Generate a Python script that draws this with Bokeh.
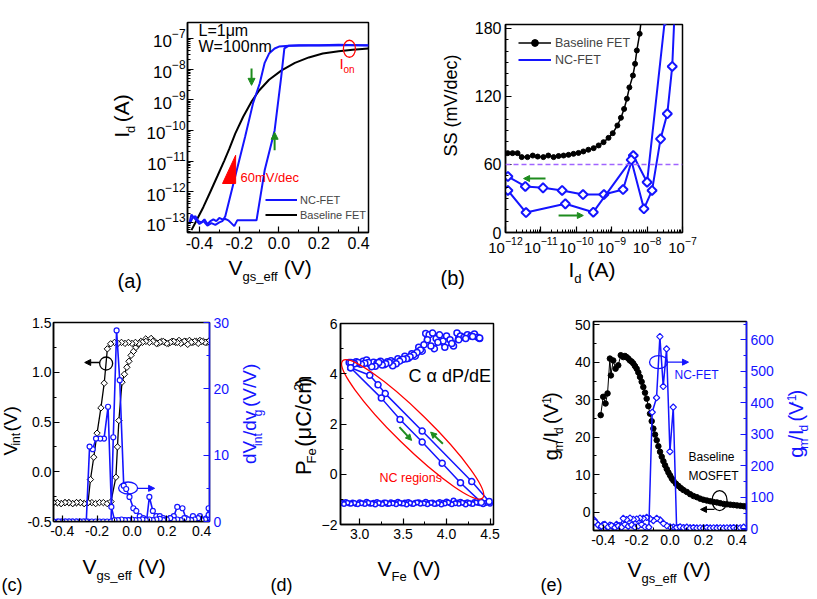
import math
from bokeh.plotting import figure
from bokeh.layouts import row, column
from bokeh.models import (Range1d, LinearAxis, FixedTicker, LogTickFormatter, PrintfTickFormatter,
                          Label, Arrow, NormalHead, Legend, LegendItem, Span)
from bokeh.embed import file_html
from bokeh.resources import INLINE

FONT = "Liberation Sans"
BLUE = "#1414ff"
GREEN = "#1e8c1e"
RED = "#ff0000"
PURPLE = "#a064ff"
K = 0.45  # measured shift of label glyphs below the requested baseline, in font sizes

# ---------------- data: panel (a) Id-Vgs ----------------
a_base_v = [-0.44, -0.42, -0.38, -0.345, -0.31, -0.276, -0.25, -0.22, -0.18, -0.137, -0.10, -0.05,
            0.013, 0.08, 0.15, 0.22, 0.30, 0.37, 0.45]
a_base_i = [5.6e-14, 1.0e-13, 3.2e-13, 1.0e-12, 3.2e-12, 1.0e-11, 2.5e-11, 7.9e-11, 2.8e-10, 8.9e-10,
            2.0e-9, 4.5e-9, 9.1e-9, 1.6e-8, 2.4e-8, 3.2e-8, 3.8e-8, 4.3e-8, 4.7e-8]
a_ncf_v = [-0.45, -0.435, -0.42, -0.405, -0.39, -0.375, -0.36, -0.345, -0.33, -0.315, -0.30, -0.285,
           -0.27, -0.255, -0.24, -0.225, -0.21, -0.19, -0.15, -0.113, -0.072, -0.022, 0.011, 0.027,
           0.05, 0.1, 0.2, 0.3, 0.4, 0.45]
a_ncf_i = [8.9e-14, 1.4e-13, 1.6e-13, 1.1e-13, 1.0e-13, 1.26e-13, 8.9e-14, 1.1e-13, 1.26e-13, 1.1e-13,
           1.4e-13, 1.26e-13, 1.3e-13, 1.17e-13, 9.5e-14, 7.6e-14, 1.17e-13, 1.17e-13, 1.17e-13,
           1.17e-13, 5.0e-12, 1.0e-10, 5.5e-9, 4.7e-8, 5.8e-8, 6.0e-8, 6.0e-8, 6.2e-8, 6.0e-8, 5.9e-8]
a_ncr_v = [0.45, 0.35, 0.25, 0.15, 0.05, 0.0, -0.022, -0.05, -0.072, -0.097, -0.13, -0.17, -0.22,
           -0.27, -0.285, -0.30, -0.32, -0.34, -0.36, -0.38, -0.40, -0.42, -0.44, -0.45]
a_ncr_i = [6.0e-8, 6.0e-8, 5.9e-8, 5.9e-8, 5.75e-8, 5.4e-8, 4.7e-8, 3.2e-8, 1.6e-8, 3.4e-9, 7.9e-10,
           6.3e-11, 3.2e-12, 1.6e-13, 1.1e-13, 1.0e-13, 8.3e-14, 9.5e-14, 7.9e-14, 1.1e-13, 8.9e-14,
           1.26e-13, 1.8e-13, 1.0e-13]
a_x_ticks = [-0.4, -0.2, 0.0, 0.2, 0.4]
a_y_ticks = [1e-13, 1e-12, 1e-11, 1e-10, 1e-9, 1e-8, 1e-7]

# ---------------- data: panel (b) SS-Id ----------------
b_base_i = [1.15e-12, 1.58e-12, 2.19e-12, 2.88e-12, 4.17e-12, 5.89e-12, 8.13e-12, 1.17e-11, 1.62e-11,
            2.29e-11, 3.16e-11, 4.37e-11, 6.03e-11, 8.32e-11, 1.15e-10, 1.58e-10, 2.19e-10, 3.09e-10,
            4.27e-10, 5.89e-10, 8.13e-10, 1.07e-9, 1.45e-9, 1.82e-9, 2.24e-9, 2.69e-9, 3.16e-9,
            3.98e-9, 4.57e-9, 5.13e-9, 6.17e-9, 7.08e-9]
b_base_ss = [70.0, 70.0, 70.0, 66.5, 66.5, 67.9, 67.0, 66.5, 67.9, 66.5, 67.5, 67.9, 68.5, 69.4, 70.2,
             71.5, 73.0, 74.4, 76.8, 79.7, 83.5, 87.6, 94.4, 101.2, 109.0, 118.0, 128.0, 138.5, 148.8,
             160.6, 175.3, 192.0]
b_nc1_i = [1.17e-12, 3.63e-12, 1.15e-11, 3.98e-11, 1.55e-10, 6.03e-10, 2.09e-9, 4.07e-9, 1.0e-8, 3.16e-8]
b_nc1_ss = [49.4, 40.6, 39.4, 37.1, 33.5, 33.5, 37.9, 67.9, 44.4, 187.0]
b_nc2_i = [1.17e-12, 3.8e-12, 4.9e-11, 3.02e-10, 3.55e-9, 8.13e-9, 1.38e-8, 2.4e-8, 3.72e-8, 5.13e-8, 5.89e-8]
b_nc2_ss = [37.1, 17.6, 25.3, 17.9, 64.1, 20.9, 37.1, 82.6, 104.7, 146.5, 190.0]
b_x_ticks = [1e-12, 1e-11, 1e-10, 1e-9, 1e-8, 1e-7]
b_y_ticks = [0, 60, 120, 180]

# ---------------- data: panel (c) Vint ----------------
c_fwd_v = [-0.45, -0.428, -0.406, -0.384, -0.362, -0.34, -0.318, -0.296, -0.274, -0.252, -0.23, -0.208,
           -0.186, -0.164, -0.142, -0.12,
           -0.092, -0.083, -0.075, -0.057, -0.043, -0.029, -0.017, -0.005, 0.009, 0.023, 0.037, 0.051, 0.079,
           0.11, 0.13, 0.15, 0.17, 0.19, 0.21, 0.23, 0.25, 0.27, 0.29, 0.31, 0.33, 0.35, 0.37, 0.39,
           0.41, 0.43, 0.44]
c_fwd_vint = [-0.31, -0.31, -0.32, -0.31, -0.31, -0.32, -0.31, -0.31, -0.32, -0.31, -0.31, -0.32,
              -0.31, -0.31, -0.32, -0.30,
              -0.055, 0.25, 0.515, 0.90, 0.98, 1.05, 1.11, 1.17, 1.21, 1.25, 1.28, 1.31, 1.335,
              1.34, 1.31, 1.29, 1.31, 1.30, 1.29, 1.31, 1.30, 1.32, 1.30, 1.31, 1.32, 1.30, 1.31, 1.32,
              1.31, 1.30, 1.31]
c_rev_v = [0.44, 0.42, 0.40, 0.38, 0.36, 0.34, 0.32, 0.30, 0.28, 0.26, 0.24, 0.22, 0.20, 0.18, 0.16,
           0.14, 0.12, 0.10, 0.08, 0.06, 0.04, 0.02, 0.0, -0.02, -0.04, -0.06, -0.08, -0.10,
           -0.122, -0.141, -0.159, -0.178, -0.20, -0.219, -0.238,
           -0.252, -0.274, -0.296, -0.318, -0.34, -0.362, -0.384, -0.406, -0.428, -0.45]
c_rev_vint = [1.31, 1.30, 1.31, 1.29, 1.31, 1.30, 1.28, 1.31, 1.29, 1.30, 1.31, 1.30, 1.29, 1.31, 1.30,
              1.29, 1.31, 1.30, 1.31, 1.30, 1.29, 1.30, 1.29, 1.30, 1.29, 1.30, 1.29, 1.30,
              1.286, 1.235, 0.89, 0.642, 0.388, 0.146, -0.078,
              -0.31, -0.32, -0.31, -0.31, -0.32, -0.31, -0.31, -0.32, -0.31, -0.31]
c_dfwd_v = [-0.45, -0.428, -0.406, -0.384, -0.362, -0.34, -0.318, -0.296, -0.274, -0.252, -0.23, -0.208,
            -0.186, -0.164, -0.142, -0.12,
            -0.107, -0.088, -0.07, -0.047, -0.033, -0.014, 0.008, 0.025, 0.045, 0.065, 0.085,
            0.10, 0.12, 0.14, 0.16, 0.18, 0.20, 0.22, 0.24, 0.26,
            0.29, 0.31, 0.33, 0.35, 0.37, 0.39, 0.41, 0.43, 0.44]
c_dfwd = [0, 0, 0, 0, 0, 0, 0, 0, 0, 0, 0, 0, 0, 0, 0, 0,
          12.7, 28.8, 21.3, 5.4, 4.9, 3.7, 2.0, 1.6, 0.8, 0.5, 0.3,
          3.7, 1.6, 0.8, 0.8, 0.5, 0.3, 0.5, 0.8, 2.2,
          2.0, 0.5, 0.3, 0.8, 0.3, 0.8, 0.3, 0.5, 2.0]
c_drev_v = [0.44, 0.42, 0.40, 0.38, 0.36, 0.34, 0.32, 0.30, 0.28, 0.26, 0.24, 0.22, 0.20, 0.18, 0.16,
            0.14, 0.12, 0.10, 0.08, 0.06, 0.04, 0.02, 0.0, -0.02, -0.04, -0.06, -0.08, -0.10,
            -0.118, -0.137, -0.16, -0.182, -0.206, -0.225, -0.243,
            -0.262, -0.28, -0.30, -0.32, -0.34, -0.36, -0.38, -0.40, -0.42, -0.45]
c_drev = [1.0, 0.3, 0.2, 0.5, 0.3, 0.2, 0.3, 0.5, 0.2, 0.3, 0.2, 0.5, 0.3, 0.2, 0.4, 0.3, 0.2, 0.3,
          0.2, 0.3, 0.2, 0.2, 0.3, 0.2, 0.2, 0.3, 0.2, 0.2,
          2.2, 17.3, 12.5, 12.5, 12.5, 10.9, 11.3,
          0, 0, 0, 0, 0, 0, 0, 0, 0, 0]

# ---------------- data: panel (d) P-V ----------------
d_t1_v = [2.88, 2.92, 2.96, 3.00, 3.04, 3.08, 3.12, 3.16, 3.20, 3.24, 3.28, 3.32, 3.36, 3.40, 3.44,
          3.48, 3.52, 3.56, 3.60, 3.64, 3.68, 3.72, 3.76, 3.80, 3.84, 3.88, 3.92, 3.96, 4.00, 4.04,
          4.08, 4.12, 4.16, 4.20, 4.24, 4.28, 4.32, 4.36, 4.38]
d_t1_p = [4.45, 4.42, 4.48, 4.40, 4.50, 4.55, 4.38, 4.46, 4.42, 4.50, 4.36, 4.48, 4.52, 4.45, 4.60,
          4.55, 4.70, 4.62, 4.80, 4.70, 5.05, 4.90, 5.60, 5.55, 5.62, 5.40, 5.55, 5.30, 5.50, 5.35,
          5.10, 5.62, 5.50, 5.45, 5.55, 5.50, 5.58, 5.45, 5.40]
d_t2_v = [4.38, 4.30, 4.22, 4.14, 4.06, 3.98, 3.90, 3.86, 3.82, 3.78, 3.74, 3.70, 3.66, 3.62, 3.58,
          3.54, 3.50, 3.46, 3.42, 3.38, 3.34, 3.30, 3.26, 3.22, 3.18, 3.14, 3.10, 3.06, 3.02, 2.98,
          2.94, 2.90]
d_t2_p = [5.42, 5.48, 5.40, 5.35, 5.20, 5.05, 5.25, 5.00, 5.10, 5.35, 5.15, 4.95, 4.85, 4.75, 4.68,
          4.60, 4.58, 4.50, 4.40, 4.32, 4.45, 4.40, 4.35, 4.45, 4.30, 4.28, 4.45, 4.42, 4.38, 4.45,
          4.40, 4.45]
d_l1_v = [2.897, 3.117, 3.212, 3.295, 3.72, 4.29, 4.49]
d_l1_p = [4.24, 3.94, 3.56, 3.21, 1.72, -0.29, -1.08]
d_l2_v = [2.897, 3.25, 3.465, 3.72, 3.95, 4.16, 4.40]
d_l2_p = [4.24, 3.03, 2.18, 1.28, 0.44, -0.34, -1.12]
d_b1_v = [2.80, 2.84, 2.88, 2.92, 2.96, 3.00, 3.04, 3.08, 3.12, 3.16, 3.20, 3.24, 3.28, 3.32, 3.36,
          3.40, 3.44, 3.48, 3.52, 3.56, 3.60, 3.64, 3.68, 3.72, 3.76, 3.80, 3.84, 3.88, 3.92, 3.96,
          4.00, 4.04, 4.08, 4.12, 4.16, 4.20, 4.24, 4.28, 4.32, 4.36, 4.40, 4.44, 4.48]
d_b1_p = [-1.14, -1.10, -1.16, -1.12, -1.18, -1.11, -1.15, -1.09, -1.17, -1.13, -1.10, -1.16, -1.12,
          -1.18, -1.11, -1.14, -1.09, -1.16, -1.12, -1.10, -1.17, -1.13, -1.11, -1.15, -1.09, -1.14,
          -1.12, -1.17, -1.10, -1.13, -1.08, -1.15, -1.04, -1.12, -1.09, -1.14, -1.11, -1.16, -1.10,
          -1.13, -1.12, -1.15, -1.10]
d_b2_v = [4.50, 4.46, 4.42, 4.38, 4.34, 4.30, 4.26, 4.22, 4.18, 4.14, 4.10, 4.06, 4.02, 3.98, 3.94,
          3.90, 3.86, 3.82, 3.78, 3.74, 3.70, 3.66, 3.62, 3.58, 3.54, 3.50, 3.46, 3.42, 3.38, 3.34,
          3.30, 3.26, 3.22, 3.18, 3.14, 3.10, 3.06, 3.02, 2.98, 2.94, 2.90, 2.86, 2.82]
d_b2_p = [-1.17, -1.13, -1.19, -1.15, -1.12, -1.18, -1.14, -1.20, -1.13, -1.17, -1.15, -1.19, -1.12,
          -1.16, -1.20, -1.14, -1.18, -1.13, -1.19, -1.15, -1.17, -1.12, -1.18, -1.14, -1.20, -1.16,
          -1.13, -1.19, -1.15, -1.17, -1.12, -1.18, -1.14, -1.20, -1.16, -1.13, -1.18, -1.15, -1.19,
          -1.14, -1.17, -1.13, -1.18]

# ---------------- data: panel (e) gm/Id ----------------
e_base_v = [-0.415, -0.40, -0.386, -0.374, -0.36, -0.354, -0.34, -0.326, -0.31, -0.295,
            -0.28, -0.27, -0.26, -0.25, -0.24, -0.23, -0.22, -0.21, -0.20, -0.19,
            -0.18, -0.17, -0.16, -0.15, -0.14, -0.13, -0.12, -0.11, -0.10, -0.09,
            -0.08, -0.07, -0.06, -0.05, -0.04, -0.03, -0.02, -0.01, 0.0, 0.01,
            0.02, 0.035, 0.05, 0.065, 0.08, 0.10, 0.12, 0.14, 0.16, 0.18,
            0.20, 0.22, 0.24, 0.26, 0.28, 0.30, 0.32, 0.34, 0.36, 0.38,
            0.40, 0.42, 0.44, 0.455]
e_base_g = [25.9, 30.8, 29.0, 31.7, 41.0, 36.5, 40.5, 38.3, 39.2, 41.9,
            41.4, 41.7, 41.4, 41.0, 40.5, 40.2, 39.7, 39.0, 38.3, 37.3,
            36.1, 34.8, 33.4, 31.9, 30.3, 28.3, 26.3, 24.3, 22.3, 20.7,
            19.2, 17.6, 16.1, 14.8, 13.6, 12.5, 11.5, 10.6, 9.8, 9.0,
            8.4, 7.6, 7.0, 6.4, 5.9, 5.4, 4.8, 4.3, 4.0, 3.6,
            3.3, 3.1, 2.9, 2.7, 2.6, 2.4, 2.2, 2.1, 2.0, 1.9,
            1.8, 1.7, 1.6, 1.5]
e_ncf_v = [-0.45, -0.43, -0.41, -0.39, -0.37, -0.35, -0.33, -0.31, -0.29, -0.27, -0.25, -0.23, -0.21,
           -0.19, -0.17, -0.15,
           -0.127, -0.107, -0.081, -0.061, -0.041, -0.021, -0.001, 0.019, 0.039,
           0.06, 0.08,
           0.10, 0.12, 0.14, 0.16, 0.18, 0.20, 0.22, 0.24, 0.26, 0.28, 0.30, 0.32, 0.34, 0.36, 0.38,
           0.40, 0.42, 0.44]
e_ncf_g = [22, 12, 8, 14, 6, 10, 4, 9, 5, 14, 8, 12, 5, 9, 14, 6,
           5, 370, 416, 610, 452, 571, 245, 386, 4,
           6, 3,
           5, 2, 4, 2, 3, 2, 4, 2, 3, 2, 3, 2, 3, 2, 4, 2, 3, 5]
e_ncr_v = [0.44, 0.40, 0.36, 0.32, 0.28, 0.24, 0.20, 0.16, 0.12, 0.08, 0.05, 0.02,
           0.0, -0.02, -0.04, -0.06, -0.08, -0.10, -0.12, -0.14, -0.16, -0.18, -0.20, -0.22, -0.24,
           -0.26, -0.28, -0.30, -0.32, -0.34, -0.36, -0.38, -0.40, -0.42, -0.44, -0.455]
e_ncr_g = [3, 2, 3, 2, 3, 2, 3, 2, 3, 4, 4, 5,
           6, 10, 17, 28, 33, 26, 32, 36, 33, 34, 31, 30, 34,
           29, 33, 10, 14, 6, 12, 8, 13, 7, 18, 28]

# ---------------- helpers ----------------
WID = {' ': 278, '(': 333, ')': 333, '/': 278, '-': 333, '_': 556, '.': 278, '=': 584,
       'A': 667, 'B': 667, 'C': 722, 'E': 667, 'F': 611, 'I': 278, 'L': 556, 'M': 833, 'N': 722,
       'O': 778, 'P': 667, 'S': 667, 'T': 611, 'V': 667, 'W': 944,
       'a': 556, 'b': 556, 'c': 500, 'd': 556, 'e': 556, 'f': 278, 'g': 556, 'i': 222, 'l': 222,
       'm': 833, 'n': 556, 'o': 556, 'r': 333, 's': 500, 't': 278, 'v': 500, 'μ': 576, 'α': 578}


def tw(s, size):
    return sum(WID.get(c, 556) for c in s) * size / 1000.0


def style_axis(ax, size, color="black"):
    ax.axis_line_width = 1.5
    ax.axis_line_color = color
    ax.major_tick_line_color = color
    ax.minor_tick_line_color = color
    ax.major_tick_line_width = 1.2
    ax.minor_tick_line_width = 1
    ax.major_tick_in = 6
    ax.major_tick_out = 0
    ax.minor_tick_in = 3
    ax.minor_tick_out = 0
    ax.major_label_text_font = FONT
    ax.major_label_text_font_size = f"{size}px"
    ax.major_label_text_color = color
    ax.major_label_standoff = 4


def make_fig(ox, oy, w, h, fx0, fx1, fy0, fy1, x_range, y_range, x_log=False, y_log=False):
    p = figure(width=w, height=h, x_range=x_range, y_range=y_range,
               x_axis_type="log" if x_log else "linear",
               y_axis_type="log" if y_log else "linear",
               output_backend="svg", toolbar_location=None,
               min_border_left=fx0 - ox, min_border_right=ox + w - fx1,
               min_border_top=fy0 - oy, min_border_bottom=oy + h - fy1)
    p.grid.visible = False
    p.outline_line_color = "black"
    p.outline_line_width = 1.5
    p.outline_line_alpha = 1.0
    p.background_fill_color = "white"
    p.border_fill_color = "white"
    for ax in p.axis:
        style_axis(ax, 14)
    return p, (fx0, fy1)


def strip(ox, oy, w, h):
    # blank text area whose data coordinates equal page pixels
    s = figure(width=w, height=h, x_range=Range1d(ox, ox + w), y_range=Range1d(oy + h, oy),
               x_axis_location=None, y_axis_location=None, output_backend="svg",
               toolbar_location=None, min_border_left=0, min_border_right=0,
               min_border_top=0, min_border_bottom=0)
    s.grid.visible = False
    s.outline_line_color = None
    s.background_fill_color = "white"
    s.border_fill_color = "white"
    return s


def stxt(s, px, py, text, size, color="black", angle=0.0):
    if angle:
        px -= K * size
    else:
        py -= K * size
    s.add_layout(Label(x=px, y=py, text=text, text_font=FONT, text_font_size=f"{size}px",
                       text_color=color, angle=angle, text_align="left", text_baseline="alphabetic"))


def schain(s, px, py, pieces, color="black", rotated=False):
    pos = py if rotated else px
    for text, size, shift in pieces:
        if text.startswith(" "):
            pos += -tw(" ", size) if rotated else tw(" ", size)
            text = text[1:]
        if rotated:
            stxt(s, px + shift, pos, text, size, color, angle=math.pi / 2)
            pos -= tw(text, size)
        else:
            stxt(s, pos, py + shift, text, size, color)
            pos += tw(text, size)


def txt(p, g, px, py, text, size, color="black"):
    fx0, fy1 = g
    py -= K * size
    p.add_layout(Label(x=px - fx0, y=fy1 - py, x_units="screen", y_units="screen", text=text,
                       text_font=FONT, text_font_size=f"{size}px", text_color=color,
                       text_align="left", text_baseline="alphabetic"))


def arrow(p, x0, y0, x1, y1, color, width=2, size=7, rname=None):
    kw = {}
    if rname:
        kw["y_range_name"] = rname
    p.add_layout(Arrow(end=NormalHead(size=size, fill_color=color, line_color=color, line_width=1),
                       x_start=x0, y_start=y0, x_end=x1, y_end=y1,
                       line_color=color, line_width=width, **kw))


def minor_log(lo, hi):
    out = []
    for e in range(lo, hi):
        for m in range(2, 10):
            out.append(m * 10.0 ** e)
    return out


def style_legend(leg, size, gw, gh, standoff):
    leg.border_line_color = None
    leg.background_fill_alpha = 0
    leg.label_text_font = FONT
    leg.label_text_font_size = f"{size}px"
    leg.glyph_width = gw
    leg.glyph_height = gh
    leg.label_height = gh
    leg.spacing = 0
    leg.padding = 0
    leg.margin = 0
    leg.label_standoff = standoff


# ================= panel (a) =================
pa, ga = make_fig(143, 0, 261, 257, 185, 368, 22, 232, Range1d(-0.46, 0.45), Range1d(4.7e-14, 3.3e-7),
                  y_log=True)
pa.xaxis.ticker = FixedTicker(ticks=a_x_ticks, minor_ticks=[-0.3, -0.1, 0.1, 0.3])
pa.xaxis.formatter = PrintfTickFormatter(format="%.1f")
pa.xaxis.major_label_text_font_size = "16px"
pa.yaxis.ticker = FixedTicker(ticks=a_y_ticks, minor_ticks=minor_log(-14, -7))
pa.yaxis.formatter = LogTickFormatter()
pa.yaxis.major_label_text_font_size = "17px"
pa.yaxis.major_label_standoff = 2
ra_base = pa.line(a_base_v, a_base_i, line_color="black", line_width=2)
ra_ncf = pa.line(a_ncf_v, a_ncf_i, line_color=BLUE, line_width=2)
pa.line(a_ncr_v, a_ncr_i, line_color=BLUE, line_width=2)
pa.patch([-0.284, -0.218, -0.218], [1.86e-12, 1.86e-12, 1.55e-11], fill_color=RED, line_color=RED)
pa.ellipse(x=[0.354], y=[4.6e-8], width=12, height=17, width_units="screen", height_units="screen",
           fill_color=None, line_color=RED, line_width=1.3)
arrow(pa, -0.138, 1.05e-8, -0.138, 2.95e-9, GREEN)
arrow(pa, -0.022, 2.24e-11, -0.022, 8.7e-11, GREEN)
leg_a = Legend(items=[LegendItem(label="NC-FET", renderers=[ra_ncf]),
                      LegendItem(label="Baseline FET", renderers=[ra_base])],
               location=(78, 10))
style_legend(leg_a, 11, 32, 15, 3)
pa.add_layout(leg_a)
txt(pa, ga, 196, 37, "L=1μm", 16)
txt(pa, ga, 196, 53, "W=100nm", 16)
txt(pa, ga, 337, 70, "I", 15, RED)
txt(pa, ga, 341, 73, "on", 10, RED)
txt(pa, ga, 238, 183, "60mV/dec", 13, RED)
sl_a = strip(0, 0, 143, 257)
sb_a = strip(0, 257, 404, 43)
schain(sb_a, 228, 276, [("V", 21, 0), ("gs_eff", 13, 6), (" (V)", 21, 0)])
schain(sl_a, 130, 141, [("I", 21, 0), ("d", 13, 6), (" (A)", 21, 0)], rotated=True)
stxt(sb_a, 117, 289, "(a)", 20)

# ================= panel (b) =================
pb, gb = make_fig(468, 0, 348, 257, 505, 682, 24, 232, Range1d(1e-12, 1e-7), Range1d(0, 183.5),
                  x_log=True)
pb.xaxis.ticker = FixedTicker(ticks=b_x_ticks, minor_ticks=minor_log(-12, -7))
pb.xaxis.formatter = LogTickFormatter()
pb.xaxis.major_label_text_font_size = "15px"
pb.yaxis.ticker = FixedTicker(ticks=b_y_ticks, minor_ticks=[10, 20, 30, 40, 50, 70, 80, 90, 100, 110,
                                                            130, 140, 150, 160, 170])
pb.yaxis.major_label_text_font_size = "16px"
pb.add_layout(Span(location=60, dimension="width", line_color=PURPLE, line_dash="5 3", line_width=1.5))
rb_l = pb.line(b_base_i, b_base_ss, line_color="black", line_width=1.5)
rb_s = pb.scatter(b_base_i, b_base_ss, marker="circle", size=5, fill_color="black", line_color="black")
rn_l = pb.line(b_nc1_i, b_nc1_ss, line_color=BLUE, line_width=2)
pb.scatter(b_nc1_i, b_nc1_ss, marker="square", angle=math.pi / 4, size=6.5, fill_color="white",
           line_color=BLUE, line_width=2)
pb.line(b_nc2_i, b_nc2_ss, line_color=BLUE, line_width=2)
pb.scatter(b_nc2_i, b_nc2_ss, marker="square", angle=math.pi / 4, size=6.5, fill_color="white",
           line_color=BLUE, line_width=2)
rn_key = pb.scatter(x=[], y=[], marker="diamond", size=12, fill_color="white", line_color=BLUE,
                    line_width=2)
arrow(pb, 1.35e-11, 47.6, 3.24e-12, 47.6, GREEN, size=6)
arrow(pb, 3.16e-11, 15, 1.58e-10, 15, GREEN, size=6)
leg_b = Legend(items=[LegendItem(label="Baseline FET", renderers=[rb_l, rb_s]),
                      LegendItem(label="NC-FET", renderers=[rn_l, rn_key])],
               location=(13, 164))
style_legend(leg_b, 12.5, 33, 17, 4)
pb.add_layout(leg_b)
sl_b = strip(404, 0, 64, 257)
sb_b = strip(404, 257, 412, 43)
schain(sb_b, 568, 278, [("I", 21, 0), ("d", 13, 6), (" (A)", 21, 0)])
schain(sl_b, 459, 163, [("SS (mV/dec)", 18, 0)], rotated=True)
stxt(sb_b, 440, 286, "(b)", 20)

# ================= panel (c) =================
pc, gc = make_fig(24, 300, 210, 256, 48, 209, 322, 521, Range1d(-0.45, 0.445), Range1d(-0.5, 1.5))
pc.extra_y_ranges = {"r": Range1d(0, 30)}
pc.xaxis.ticker = FixedTicker(ticks=[-0.4, -0.2, 0.0, 0.2, 0.4], minor_ticks=[-0.3, -0.1, 0.1, 0.3])
pc.xaxis.formatter = PrintfTickFormatter(format="%.1f")
pc.yaxis.ticker = FixedTicker(ticks=[-0.5, 0.0, 0.5, 1.0, 1.5], minor_ticks=[-0.25, 0.25, 0.75, 1.25])
pc.yaxis.formatter = PrintfTickFormatter(format="%.1f")
pc.yaxis.major_label_standoff = 2
ax_cr = LinearAxis(y_range_name="r", ticker=FixedTicker(ticks=[0, 10, 20, 30], minor_ticks=[5, 15, 25]))
style_axis(ax_cr, 14, BLUE)
pc.add_layout(ax_cr, "right")
pc.line(c_fwd_v, c_fwd_vint, line_color="black", line_width=1.3)
pc.scatter(c_fwd_v, c_fwd_vint, marker="square", angle=math.pi / 4, size=4.5, fill_color="white",
           line_color="black", line_width=1)
pc.line(c_rev_v, c_rev_vint, line_color="black", line_width=1.3)
pc.scatter(c_rev_v, c_rev_vint, marker="square", angle=math.pi / 4, size=4.5, fill_color="white",
           line_color="black", line_width=1)
pc.line(c_dfwd_v, c_dfwd, line_color=BLUE, line_width=1.6, y_range_name="r")
pc.scatter(c_dfwd_v, c_dfwd, marker="circle", size=5, fill_color="white", line_color=BLUE,
           line_width=1.2, y_range_name="r")
pc.line(c_drev_v, c_drev, line_color=BLUE, line_width=1.6, y_range_name="r")
pc.scatter(c_drev_v, c_drev, marker="circle", size=5, fill_color="white", line_color=BLUE,
           line_width=1.2, y_range_name="r")
pc.ellipse(x=[-0.148], y=[1.088], width=13, height=13, width_units="screen", height_units="screen",
           fill_color=None, line_color="black", line_width=1.3)
arrow(pc, -0.185, 1.098, -0.271, 1.098, "black", width=1.3, size=6)
pc.ellipse(x=[-0.022], y=[5.05], width=19, height=12, width_units="screen", height_units="screen",
           fill_color=None, line_color=BLUE, line_width=1.3, y_range_name="r")
arrow(pc, 0.031, 5.0, 0.13, 5.0, BLUE, width=1.3, size=6, rname="r")
sl_c = strip(0, 300, 24, 256)
sr_c = strip(234, 300, 34, 256)
sb_c = strip(0, 556, 268, 42)
schain(sb_c, 82, 575, [("V", 21, 0), ("gs_eff", 13, 6), (" (V)", 21, 0)])
schain(sl_c, 19, 471, [("V", 19, 0), ("int", 12, 2), (" (V)", 19, 0)], rotated=True)
schain(sr_c, 258, 482, [("dV", 19, 0), ("int", 12, 5), ("/dv", 19, 0), ("g", 12, 5), (" (V/V)", 19, 0)],
       color=BLUE, rotated=True)
stxt(sb_c, 1, 593, "(c)", 18)

# ================= panel (d) =================
pd, gd = make_fig(318, 300, 222, 256, 338, 493, 323, 524, Range1d(2.78, 4.54), Range1d(-2, 6))
pd.xaxis.ticker = FixedTicker(ticks=[3.0, 3.5, 4.0, 4.5], minor_ticks=[3.25, 3.75, 4.25])
pd.xaxis.formatter = PrintfTickFormatter(format="%.1f")
pd.yaxis.ticker = FixedTicker(ticks=[-2, 0, 2, 4, 6], minor_ticks=[-1, 1, 3, 5])
pd.yaxis.major_label_standoff = 3
for vs, ps, sz in [(d_b1_v, d_b1_p, 4.5), (d_b2_v, d_b2_p, 4.5), (d_t1_v, d_t1_p, 6), (d_t2_v, d_t2_p, 6),
                   (d_l1_v, d_l1_p, 6), (d_l2_v, d_l2_p, 6)]:
    pd.line(vs, ps, line_color=BLUE, line_width=1.5)
    pd.scatter(vs, ps, marker="circle", size=sz, fill_color="white", line_color=BLUE, line_width=1.5)
pd.ellipse(x=[3.61], y=[1.785], width=196, height=34, angle=-0.775, width_units="screen",
           height_units="screen", fill_color=None, line_color=RED, line_width=1.3)
arrow(pd, 3.458, 1.876, 3.598, 1.347, GREEN, size=6)
arrow(pd, 3.958, 1.215, 3.817, 1.677, GREEN, size=6)
txt(pd, gd, 406, 384, "C α dP/dE", 18)
txt(pd, gd, 377, 483, "NC regions", 12.5, RED)
sl_d = strip(268, 300, 50, 256)
sb_d = strip(268, 556, 272, 42)
schain(sb_d, 377, 577, [("V", 21, 0), ("Fe", 13, 5), (" (V)", 21, 0)])
schain(sl_d, 313, 493, [("P", 22, 0), ("Fe", 13, 4), (" (μC/cm", 22, 0), ("2", 13, -9), (")", 22, 0)],
       rotated=True)
stxt(sb_d, 270, 593, "(d)", 18)

# ================= panel (e) =================
pe, ge = make_fig(566, 300, 220, 256, 593, 746, 321, 530, Range1d(-0.458, 0.457), Range1d(-4.9, 50.9))
pe.extra_y_ranges = {"r": Range1d(-5.4, 658)}
pe.xaxis.ticker = FixedTicker(ticks=[-0.4, -0.2, 0.0, 0.2, 0.4], minor_ticks=[-0.3, -0.1, 0.1, 0.3])
pe.xaxis.formatter = PrintfTickFormatter(format="%.1f")
pe.yaxis.ticker = FixedTicker(ticks=[0, 10, 20, 30, 40, 50], minor_ticks=[5, 15, 25, 35, 45])
pe.yaxis.major_label_standoff = 3
ax_er = LinearAxis(y_range_name="r", ticker=FixedTicker(ticks=[0, 100, 200, 300, 400, 500, 600],
                                                        minor_ticks=[50, 150, 250, 350, 450, 550, 650]))
style_axis(ax_er, 14, BLUE)
pe.add_layout(ax_er, "right")
pe.line(e_base_v, e_base_g, line_color="black", line_width=1)
pe.scatter(e_base_v, e_base_g, marker="circle", size=5.5, fill_color="black", line_color="black")
pe.line(e_ncr_v, e_ncr_g, line_color=BLUE, line_width=1.2, y_range_name="r")
pe.scatter(e_ncr_v, e_ncr_g, marker="square", angle=math.pi / 4, size=4.5, fill_color="white",
           line_color=BLUE, line_width=1.2, y_range_name="r")
pe.line(e_ncf_v, e_ncf_g, line_color=BLUE, line_width=1.5, y_range_name="r")
pe.scatter(e_ncf_v, e_ncf_g, marker="square", angle=math.pi / 4, size=4.5, fill_color="white",
           line_color=BLUE, line_width=1.2, y_range_name="r")
pe.ellipse(x=[-0.069], y=[529], width=18, height=13, width_units="screen", height_units="screen",
           fill_color=None, line_color=BLUE, line_width=1.3, y_range_name="r")
arrow(pe, -0.015, 529, 0.11, 529, BLUE, width=1.3, size=6, rname="r")
pe.ellipse(x=[0.296], y=[3.1], width=15, height=20, width_units="screen", height_units="screen",
           fill_color=None, line_color="black", line_width=1.3)
arrow(pe, 0.266, 0.72, 0.182, 0.72, "black", width=1.3, size=6)
txt(pe, ge, 674, 380, "NC-FET", 12, BLUE)
txt(pe, ge, 688, 462, "Baseline", 12)
txt(pe, ge, 688, 481, "MOSFET", 12)
sl_e = strip(540, 300, 26, 256)
sr_e = strip(786, 300, 30, 256)
sb_e = strip(540, 556, 276, 42)
schain(sb_e, 627, 578, [("V", 21, 0), ("gs_eff", 13, 6), (" (V)", 21, 0)])
schain(sl_e, 559, 470, [("g", 20, 0), ("m", 12, 5), ("/I", 20, 0), ("d", 12, 5), (" (V", 20, 0),
                        ("-1", 12, -8), (")", 20, 0)], rotated=True)
schain(sr_e, 804, 467, [("g", 20, 0), ("m", 12, 5), ("/I", 20, 0), ("d", 12, 5), (" (V", 20, 0),
                        ("-1", 12, -8), (")", 20, 0)], color=BLUE, rotated=True)
stxt(sb_e, 540, 593, "(e)", 18)

top = row(column(row(sl_a, pa), sb_a), column(row(sl_b, pb), sb_b))
bottom = row(column(row(sl_c, pc, sr_c), sb_c), column(row(sl_d, pd), sb_d),
             column(row(sl_e, pe, sr_e), sb_e))
layout = column(top, bottom)
open("out.html", "w").write(file_html(layout, INLINE))
